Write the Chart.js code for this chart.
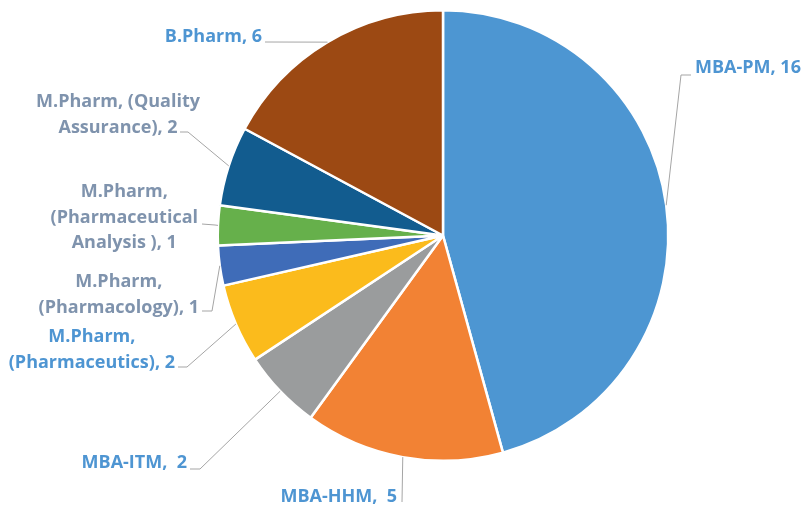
<!DOCTYPE html>
<html>
<head>
<meta charset="utf-8">
<script src="https://cdn.jsdelivr.net/npm/chart.js@4.4.0/dist/chart.umd.min.js"></script>
<style>
  html, body { margin: 0; padding: 0; background: #fff; }
  #wrap { width: 808px; height: 508px; }
</style>
</head>
<body>
<div id="wrap"><canvas id="c" width="808" height="508"></canvas></div>
<script>
// 数据
const categories = [
  'MBA-PM',
  'MBA-HHM',
  'MBA-ITM',
  'M.Pharm, (Pharmaceutics)',
  'M.Pharm, (Pharmacology)',
  'M.Pharm, (Pharmaceutical Analysis )',
  'M.Pharm, (Quality Assurance)',
  'B.Pharm'
];
const values = [16, 5, 2, 2, 1, 1, 2, 6];
const sliceColors = ['#4d96d2', '#f28234', '#9a9c9d', '#fbbb1c', '#3f6cb8', '#66b04b', '#125c8f', '#9c4913'];
const labelColors = ['#4e95d2', '#4e95d2', '#4e95d2', '#4e95d2', '#7f93ad', '#7f93ad', '#7f93ad', '#4e95d2'];

// 标签位置：x 为文字对齐点（居中标签用 right 表示最长一行的右端）
const labelLayout = [
  { x: 695, y: 68, align: 'left', path: [[681, 75], [691, 75]] },
  { x: 397, y: 497, align: 'right', sep: ',  ', path: [[402, 502]] },
  { x: 187, y: 463, align: 'right', sep: ',  ', path: [[200, 469], [190, 469]] },
  { right: 175, y: 337, align: 'center', words: [1, 2], path: [[187, 367], [178, 367]] },
  { right: 199, y: 282, align: 'center', words: [1, 2], path: [[212, 311], [202, 311]] },
  { right: 198, y: 192, align: 'center', words: [1, 1, 3], path: [[215, 225], [202, 224]] },
  { right: 200, y: 102, align: 'center', words: [2, 2], path: [[188, 132], [180, 132]] },
  { x: 262, y: 37, align: 'right', path: [[265, 42]] }
];

const labelFont = '700 18px "Open Sans", sans-serif';
const lineHeight = 25.5;

function splitLines(text, counts) {
  if (!counts) return [text];
  const words = text.split(' ');
  const lines = [];
  let k = 0;
  counts.forEach(n => {
    lines.push(words.slice(k, k + n).join(' '));
    k += n;
  });
  return lines;
}

const leaderLabels = {
  id: 'leaderLabels',
  afterDraw(chart) {
    const ctx = chart.ctx;
    const meta = chart.getDatasetMeta(0);
    ctx.save();
    meta.data.forEach((arc, i) => {
      const p = arc.getProps(['x', 'y', 'startAngle', 'endAngle', 'outerRadius'], true);
      const mid = (p.startAngle + p.endAngle) / 2;
      const ax = p.x + Math.cos(mid) * p.outerRadius;
      const ay = p.y + Math.sin(mid) * p.outerRadius;
      const lay = labelLayout[i];

      // 引导线
      ctx.beginPath();
      ctx.moveTo(ax, ay);
      lay.path.forEach(pt => ctx.lineTo(pt[0], pt[1]));
      ctx.strokeStyle = '#a5a5a5';
      ctx.lineWidth = 1;
      ctx.stroke();

      // 文字
      const text = categories[i] + (lay.sep || ', ') + values[i];
      const lines = splitLines(text, lay.words);
      ctx.font = labelFont;
      ctx.fillStyle = labelColors[i];
      ctx.textAlign = lay.align;
      ctx.textBaseline = 'middle';
      let tx = lay.x;
      if (lay.right !== undefined) {
        const w = Math.max(...lines.map(ln => ctx.measureText(ln).width));
        tx = lay.right - w / 2;
      }
      lines.forEach((ln, j) => ctx.fillText(ln, tx, lay.y + j * lineHeight));
    });
    ctx.restore();
  }
};

new Chart(document.getElementById('c'), {
  type: 'pie',
  data: {
    labels: categories,
    datasets: [{
      data: values,
      backgroundColor: sliceColors,
      borderColor: '#ffffff',
      borderWidth: 2.5
    }]
  },
  options: {
    responsive: false,
    animation: false,
    layout: {
      padding: { left: 200, right: 122, top: 9, bottom: 46 }
    },
    plugins: {
      legend: { display: false },
      tooltip: { enabled: false }
    }
  },
  plugins: [leaderLabels]
});
</script>
</body>
</html>
